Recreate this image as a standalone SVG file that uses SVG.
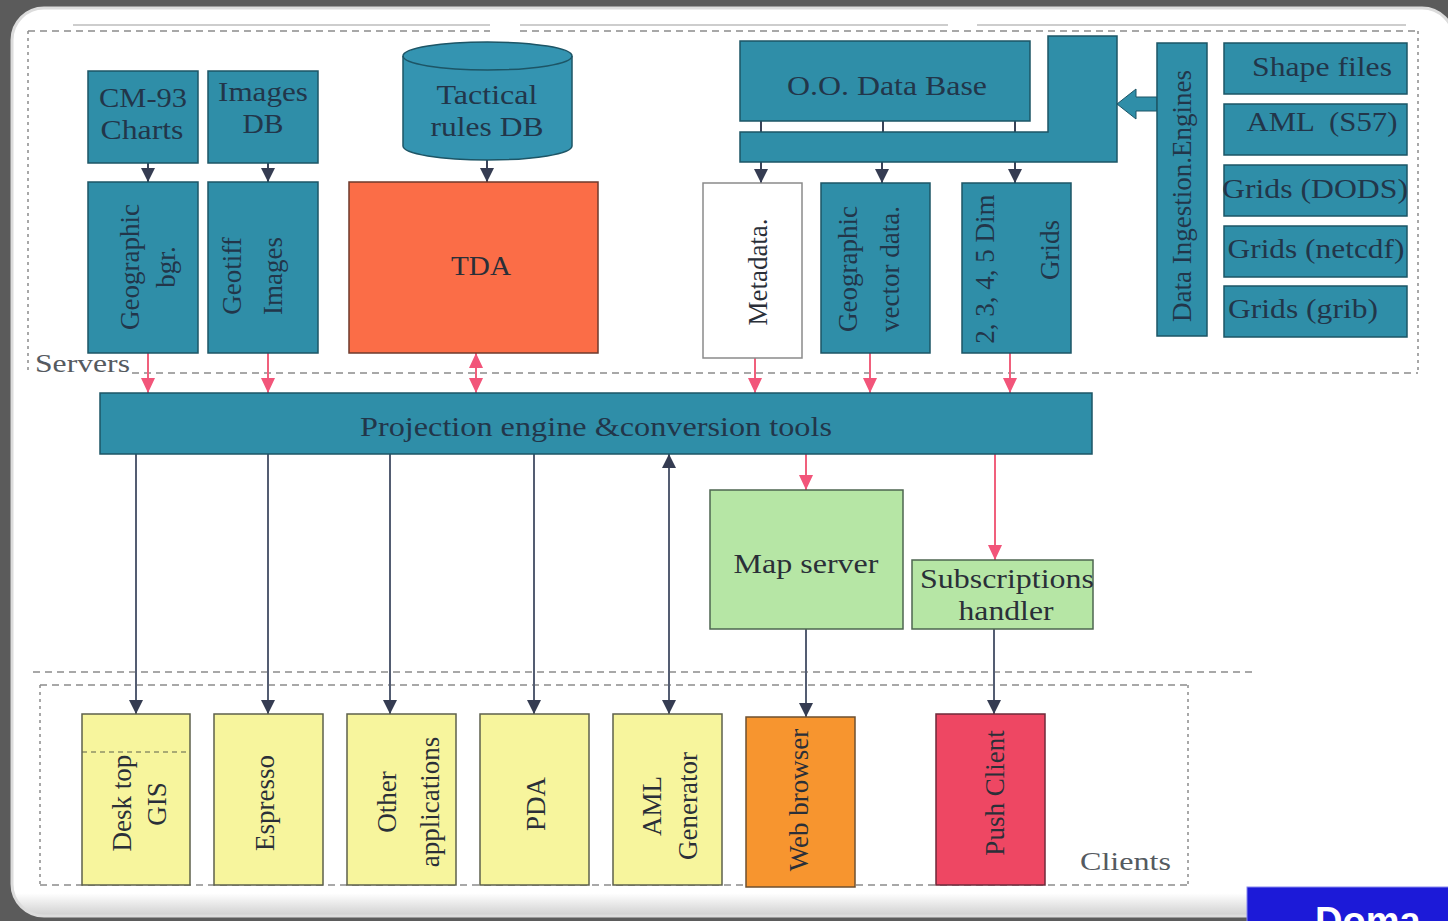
<svg xmlns="http://www.w3.org/2000/svg" width="1448" height="921" viewBox="0 0 1448 921">
<defs>
<style>
.teal{fill:#2f8ea8;stroke:#1d5566;stroke-width:1.5}
.yel{fill:#f7f59d;stroke:#5d604c;stroke-width:1.5}
.t{font-family:"Liberation Serif","Times New Roman",serif;font-size:27px;fill:#22364a;text-anchor:middle}
.tk{font-family:"Liberation Serif","Times New Roman",serif;font-size:27px;fill:#2a2f38;text-anchor:middle}
.lbl{font-family:"Liberation Serif","Times New Roman",serif;fill:#555a60}
.dash{fill:none;stroke:#8c8c8c;stroke-width:1.5;stroke-dasharray:7 5}
.dot{fill:none;stroke:#8c8c8c;stroke-width:1.5;stroke-dasharray:3 4}
.dk{fill:none;stroke:#545d72;stroke-width:2}
.dks{fill:none;stroke:#3b4358;stroke-width:2}
.pk{fill:none;stroke:#f0607c;stroke-width:2}
</style>
<linearGradient id="pg" x1="0" y1="0" x2="0" y2="1" gradientUnits="objectBoundingBox">
<stop offset="0" stop-color="#ffffff"/>
<stop offset="0.975" stop-color="#ffffff"/>
<stop offset="1" stop-color="#cfcfcf"/>
</linearGradient>
<marker id="ad" markerWidth="14" markerHeight="14" refX="14" refY="7" orient="auto" markerUnits="userSpaceOnUse">
<path d="M0,0 L14,7 L0,14 z" fill="#353c52"/>
</marker>
<marker id="ads" markerWidth="14" markerHeight="14" refX="14" refY="7" orient="auto-start-reverse" markerUnits="userSpaceOnUse">
<path d="M0,0 L14,7 L0,14 z" fill="#353c52"/>
</marker>
<marker id="ap" markerWidth="15" markerHeight="14" refX="15" refY="7" orient="auto-start-reverse" markerUnits="userSpaceOnUse">
<path d="M0,0 L15,7 L0,14 z" fill="#f2557a"/>
</marker>
</defs>

<rect x="0" y="0" width="1448" height="921" fill="#5b5b5b"/>
<rect x="12" y="8" width="1442" height="908" rx="32" fill="url(#pg)" stroke="#dcdcdc" stroke-width="3"/>

<g id="frames">
<path d="M73,25 H490 M520,25 H948 M977,25 H1406" stroke="#bdbdbd" stroke-width="1.5" fill="none"/>
<path class="dash" d="M28,31 H490 M520,31 H1418"/>
<path class="dot" d="M28,31 V373 M1418,31 V373"/>
<path class="dash" d="M132,373 H1418"/>
<text class="lbl" x="35" y="372" font-size="26" textLength="95" lengthAdjust="spacingAndGlyphs">Servers</text>
<path class="dash" d="M33,672 H1255"/>
<path class="dash" d="M40,685 H1188 M40,885 H1188"/>
<path class="dot" d="M40,685 V885 M1188,685 V885"/>
<text class="lbl" x="1080" y="870" font-size="26" textLength="91" lengthAdjust="spacingAndGlyphs">Clients</text>
</g>

<g id="connectors">
<path class="dks" d="M148,163 V182" marker-end="url(#ad)"/>
<path class="dks" d="M268,163 V182" marker-end="url(#ad)"/>
<path class="dks" d="M487,160 V182" marker-end="url(#ad)"/>
<path class="dks" d="M761,121 V132 M883,121 V132 M1015,121 V132"/>
<path class="dks" d="M761,162 V183" marker-end="url(#ad)"/>
<path class="dks" d="M882,162 V183" marker-end="url(#ad)"/>
<path class="dks" d="M1015,162 V183" marker-end="url(#ad)"/>
<path class="pk" d="M148,353 V393" marker-end="url(#ap)"/>
<path class="pk" d="M268,353 V393" marker-end="url(#ap)"/>
<path class="pk" d="M476,353 V393" marker-start="url(#ap)" marker-end="url(#ap)"/>
<path class="pk" d="M755,358 V393" marker-end="url(#ap)"/>
<path class="pk" d="M870,353 V393" marker-end="url(#ap)"/>
<path class="pk" d="M1010,353 V393" marker-end="url(#ap)"/>
<path class="pk" d="M806,454 V490" marker-end="url(#ap)"/>
<path class="pk" d="M995,454 V560" marker-end="url(#ap)"/>
<path class="dk" d="M136,454 V714" marker-end="url(#ad)"/>
<path class="dk" d="M268,454 V714" marker-end="url(#ad)"/>
<path class="dk" d="M390,454 V714" marker-end="url(#ad)"/>
<path class="dk" d="M534,454 V714" marker-end="url(#ad)"/>
<path class="dk" d="M669,454 V714" marker-start="url(#ads)" marker-end="url(#ads)"/>
<path class="dk" d="M806,629 V717" marker-end="url(#ad)"/>
<path class="dk" d="M994,629 V714" marker-end="url(#ad)"/>
<path d="M1157,97 H1136 V89 L1117,104 L1136,119 V111 H1157 Z" fill="#2f8ea8" stroke="#1d5566" stroke-width="1"/>
</g>

<g id="cm93">
<rect class="teal" x="88" y="71" width="110" height="92"/>
<text class="t" x="143" y="107" textLength="88" lengthAdjust="spacingAndGlyphs">CM-93</text>
<text class="t" x="142" y="139" textLength="83" lengthAdjust="spacingAndGlyphs">Charts</text>
</g>
<g id="imagesdb">
<rect class="teal" x="208" y="71" width="110" height="92"/>
<text class="t" x="263" y="101" textLength="90" lengthAdjust="spacingAndGlyphs">Images</text>
<text class="t" x="263" y="133" textLength="41" lengthAdjust="spacingAndGlyphs">DB</text>
</g>
<g id="tacticaldb">
<path d="M403,56 V146 A84.5,14 0 0 0 572,146 V56 A84.5,14 0 0 0 403,56 Z" fill="#3494b1" stroke="#1d5566" stroke-width="1.5"/>
<path d="M403,56 A84.5,14 0 0 0 572,56" fill="none" stroke="#1d5566" stroke-width="1.5"/>
<text class="t" x="487" y="104" textLength="101" lengthAdjust="spacingAndGlyphs">Tactical</text>
<text class="t" x="487" y="136" textLength="113" lengthAdjust="spacingAndGlyphs">rules DB</text>
</g>
<g id="geobgr">
<rect class="teal" x="88" y="182" width="110" height="171"/>
<text class="t" transform="translate(139,267) rotate(-90)">Geographic</text>
<text class="t" transform="translate(175,267) rotate(-90)">bgr.</text>
</g>
<g id="geotiff">
<rect class="teal" x="208" y="182" width="110" height="171"/>
<text class="t" transform="translate(241,276) rotate(-90)">Geotiff</text>
<text class="t" transform="translate(282,276) rotate(-90)">Images</text>
</g>
<g id="tda">
<rect x="349" y="182" width="249" height="171" fill="#fb6d47" stroke="#6e3a2c" stroke-width="1.5"/>
<text class="tk" x="481" y="275" textLength="60" lengthAdjust="spacingAndGlyphs">TDA</text>
</g>
<g id="oodb">
<rect class="teal" x="740" y="41" width="290" height="80"/>
<text class="t" x="887" y="95" font-size="26" textLength="200" lengthAdjust="spacingAndGlyphs">O.O. Data Base</text>
</g>
<g id="databus">
<path class="teal" d="M740,132 H1048 V36 H1117 V162 H740 Z"/>
</g>
<g id="metadata">
<rect x="703" y="183" width="99" height="175" fill="#ffffff" stroke="#8a8a8a" stroke-width="1.5"/>
<text class="tk" transform="translate(767,272) rotate(-90)">Metadata.</text>
</g>
<g id="geovector">
<rect class="teal" x="821" y="183" width="109" height="170"/>
<text class="t" transform="translate(857,269) rotate(-90)">Geographic</text>
<text class="t" transform="translate(899,269) rotate(-90)">vector data.</text>
</g>
<g id="dimgrids">
<rect class="teal" x="962" y="183" width="109" height="170"/>
<text class="t" font-size="26" transform="translate(994,269) rotate(-90)">2, 3, 4, 5 Dim</text>
<text class="t" font-size="26" transform="translate(1059,250) rotate(-90)">Grids</text>
</g>
<g id="ingestion">
<rect class="teal" x="1157" y="43" width="50" height="293"/>
<text class="t" font-size="26" transform="translate(1191,196) rotate(-90)">Data Ingestion.Engines</text>
</g>
<g id="shapefiles">
<rect class="teal" x="1224" y="43" width="183" height="51"/>
<text class="t" x="1322" y="76" textLength="140" lengthAdjust="spacingAndGlyphs">Shape files</text>
</g>
<g id="aml57">
<rect class="teal" x="1224" y="104" width="183" height="51"/>
<text class="t" x="1322" y="131" textLength="151" lengthAdjust="spacingAndGlyphs" xml:space="preserve">AML  (S57)</text>
</g>
<g id="gridsdods">
<rect class="teal" x="1224" y="165" width="183" height="51"/>
<text class="t" x="1315" y="198" textLength="186" lengthAdjust="spacingAndGlyphs">Grids (DODS)</text>
</g>
<g id="gridsnetcdf">
<rect class="teal" x="1224" y="226" width="183" height="51"/>
<text class="t" x="1316" y="258" textLength="177" lengthAdjust="spacingAndGlyphs">Grids (netcdf)</text>
</g>
<g id="gridsgrib">
<rect class="teal" x="1224" y="286" width="183" height="51"/>
<text class="t" x="1303" y="318" textLength="150" lengthAdjust="spacingAndGlyphs">Grids (grib)</text>
</g>
<g id="projection">
<rect class="teal" x="100" y="393" width="992" height="61"/>
<text class="t" x="596" y="436" textLength="472" lengthAdjust="spacingAndGlyphs">Projection engine &amp;conversion tools</text>
</g>
<g id="mapserver">
<rect x="710" y="490" width="193" height="139" fill="#b6e6a5" stroke="#4d6650" stroke-width="1.5"/>
<text class="tk" x="806" y="573" textLength="145" lengthAdjust="spacingAndGlyphs">Map server</text>
</g>
<g id="subscriptions">
<rect x="912" y="560" width="181" height="69" fill="#b6e6a5" stroke="#4d6650" stroke-width="1.5"/>
<text class="tk" x="1007" y="588" textLength="174" lengthAdjust="spacingAndGlyphs">Subscriptions</text>
<text class="tk" x="1006" y="620" textLength="95" lengthAdjust="spacingAndGlyphs">handler</text>
</g>
<g id="desktopgis">
<rect class="yel" x="82" y="714" width="108" height="171"/>
<path d="M82,752 H190" stroke="#5d604c" stroke-width="1.2" stroke-dasharray="5 4" fill="none"/>
<text class="tk" transform="translate(131,803) rotate(-90)">Desk top</text>
<text class="tk" transform="translate(166,804) rotate(-90)">GIS</text>
</g>
<g id="espresso">
<rect class="yel" x="214" y="714" width="109" height="171"/>
<text class="tk" transform="translate(274,803) rotate(-90)">Espresso</text>
</g>
<g id="otherapps">
<rect class="yel" x="347" y="714" width="109" height="171"/>
<text class="tk" transform="translate(396,802) rotate(-90)">Other</text>
<text class="tk" transform="translate(439,802) rotate(-90)">applications</text>
</g>
<g id="pda">
<rect class="yel" x="480" y="714" width="109" height="171"/>
<text class="tk" transform="translate(545,804) rotate(-90)">PDA</text>
</g>
<g id="amlgen">
<rect class="yel" x="613" y="714" width="109" height="171"/>
<text class="tk" transform="translate(661,806) rotate(-90)">AML</text>
<text class="tk" transform="translate(697,806) rotate(-90)">Generator</text>
</g>
<g id="webbrowser">
<rect x="746" y="717" width="109" height="170" fill="#f7952f" stroke="#6e5030" stroke-width="1.5"/>
<text class="tk" transform="translate(808,800) rotate(-90)">Web browser</text>
</g>
<g id="pushclient">
<rect x="936" y="714" width="109" height="171" fill="#ee4763" stroke="#6e2a3a" stroke-width="1.5"/>
<text class="tk" transform="translate(1004,793) rotate(-90)">Push Client</text>
</g>

<g id="doma">
<rect x="1247" y="887" width="205" height="40" fill="#1c1ad8" stroke="#8888ee" stroke-width="1"/>
<text x="1315" y="934" font-family="Liberation Sans, Arial, sans-serif" font-weight="bold" font-size="38" fill="#ffffff">Doma</text>
</g>
</svg>
